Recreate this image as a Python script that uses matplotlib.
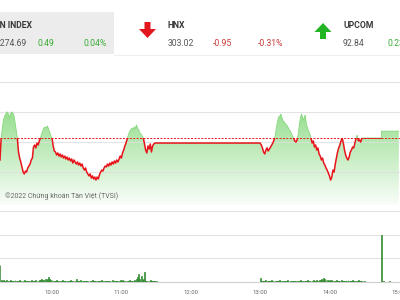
import numpy as np
import matplotlib
matplotlib.use("Agg")
import matplotlib.pyplot as plt
from matplotlib.colors import LinearSegmentedColormap
from matplotlib.patches import Rectangle, FancyArrow

plt.rcParams["font.family"] = ["Roboto", "DejaVu Sans"]

# reference (previous close) of VN-Index
REF = 1274.20

# per-minute index values, morning session from 09:15
am_start = "09:15"
am_price = [
    1272.63, 1274.20, 1274.91, 1275.49, 1275.77, 1275.91, 1276.06, 1275.99, 1275.63, 1275.91,
    1276.06, 1275.99, 1275.84, 1275.34, 1274.77, 1274.20, 1273.20, 1272.77, 1272.49, 1272.13,
    1271.77, 1271.63, 1271.84, 1271.77, 1272.06, 1272.20, 1272.34, 1272.63, 1272.77, 1273.56,
    1273.70, 1273.49, 1273.84, 1273.70, 1273.99, 1274.20, 1274.49, 1274.70, 1274.91, 1274.99,
    1274.91, 1275.06, 1274.84, 1274.63, 1274.34,
    1274.20, 1273.63, 1273.27, 1273.20, 1272.99, 1273.13, 1272.91, 1273.06, 1272.84, 1272.99,
    1272.77, 1272.91, 1272.70, 1272.84, 1272.63, 1272.77, 1272.56, 1272.70, 1272.41, 1272.63,
    1272.49, 1272.34, 1272.49, 1272.27, 1272.41, 1272.20, 1272.34, 1272.06, 1271.91, 1272.06,
    1271.77, 1271.63, 1271.49, 1271.63, 1271.34, 1271.49, 1271.27, 1271.41, 1271.20, 1271.41,
    1271.27, 1271.56, 1271.77, 1271.91, 1271.84, 1272.06, 1272.20, 1272.13, 1272.34, 1272.20,
    1272.41, 1272.27, 1272.49, 1272.34, 1272.56, 1272.41, 1272.63, 1272.49, 1272.70, 1272.91,
    1272.77, 1273.13, 1273.34, 1273.63, 1273.84, 1274.13, 1274.41, 1274.63, 1274.77, 1274.91,
    1274.77, 1274.99, 1274.84, 1275.13, 1274.91, 1274.77, 1274.56, 1274.49, 1274.34, 1274.20,
    1273.77, 1273.34, 1273.13, 1273.63, 1273.41, 1273.77, 1273.20, 1273.63, 1273.77, 1273.84,
    1273.84,
]

# afternoon session from 13:00 to 14:30
pm_start = "13:00"
pm_price = [
    1273.84, 1273.70, 1273.49, 1273.20, 1273.06, 1273.34, 1273.49, 1273.27, 1273.41, 1273.56,
    1273.70, 1273.84, 1274.06, 1274.34, 1274.91, 1275.34, 1275.70, 1275.77, 1275.91, 1275.63,
    1275.41, 1275.34, 1275.20, 1275.13, 1274.99, 1274.84, 1274.70, 1274.56, 1274.34, 1274.20,
    1273.99, 1273.91, 1274.06, 1274.49, 1275.20, 1275.70, 1275.91, 1275.49, 1275.63, 1275.84,
    1275.20, 1274.91, 1274.70, 1274.49, 1274.20, 1273.84, 1273.99, 1273.56, 1273.70, 1273.34,
    1273.49, 1273.06, 1272.91, 1272.63, 1272.77, 1272.41, 1272.27, 1272.06, 1271.91, 1271.70,
    1271.49, 1271.20, 1271.41, 1271.91, 1271.77, 1272.34, 1272.77, 1273.20, 1273.49, 1273.70,
    1273.99, 1274.20, 1273.84, 1273.34, 1272.99, 1272.77, 1272.63, 1272.84, 1273.20, 1273.34,
    1273.56, 1273.49, 1273.84, 1274.20, 1274.41, 1273.99, 1274.06, 1273.91, 1274.20, 1274.20,
    1274.20,
]

# ATC session
atc_time = ["14:45", "14:45", "15:00"]
atc_price = [1274.20, 1274.69, 1274.69]

# matched volume per minute (arbitrary units)
am_vol = [
    17,
    2, 1, 2, 1, 1, 2, 1, 1, 2, 1, 1, 1, 2, 1,
    1, 1, 2, 1, 1, 1, 2, 1, 1, 1, 1, 1, 2, 1, 1,
    1, 2, 1, 1, 2, 2, 3, 2, 2, 3, 2, 3, 5, 3, 2,
    2, 1, 1, 1, 2, 1, 1, 1, 1, 2, 1, 1, 1, 1, 1,
    1, 2, 1, 1, 1, 1, 3, 1, 1, 1, 2, 1, 1, 1, 1,
    1, 1, 1, 1, 1, 2, 1, 1, 1, 1, 1, 1, 1, 2, 1,
    1, 1, 1, 1, 1, 1, 1, 2, 1, 1, 1, 1, 1, 1, 2,
    1, 2, 1, 1, 1, 1, 1, 2, 1, 1, 1, 2, 1, 3, 5,
    8, 3, 6, 2, 3, 10, 1, 1, 1, 1, 2, 1, 1, 1, 1, 1,
]
pm_vol = [
    4, 1, 1, 1, 1, 2, 1, 1, 1, 1, 2, 1, 1, 1, 1,
    1, 1, 2, 1, 1, 1, 1, 1, 1, 2, 1, 1, 1, 1, 1,
    1, 1, 1, 1, 1, 2, 1, 1, 1, 1, 1, 2, 1, 1, 1,
    1, 2, 1, 1, 2, 1, 2, 2, 3, 2, 4, 3, 2, 2, 1,
    2, 1, 2, 1, 1, 1, 2, 1, 1, 1, 2, 1, 1, 1, 1,
    1, 2, 1, 1, 1, 2, 1, 1, 1, 1, 2, 1, 1, 1, 1,
    1,
]
late_vol_time = ["14:45", "14:47", "14:52"]
late_vol = [47, 1, 1]

tick_labels = ["10:00", "11:00", "12:00", "13:00", "14:00", "15:00"]

idx_names = ["VN INDEX", "HNX", "UPCOM"]
idx_last = ["1274.69", "303.02", "92.84"]
idx_chg = ["0.49", "-0.95", "0.23"]
idx_pct = ["0.04%", "-0.31%", "0.25%"]


def mins(s):
    h, m = s.split(":")
    return int(h) * 60 + int(m) - 540


RED = "#e8141b"
GREEN_TXT = "#3aab36"
RED_TXT = "#c93a36"

t = np.concatenate([mins(am_start) + np.arange(len(am_price)),
                    mins(pm_start) + np.arange(len(pm_price)),
                    [mins(s) for s in atc_time]]).astype(float)
p = np.array(am_price + pm_price + atc_price)

fig = plt.figure(figsize=(4, 3), dpi=100)
fig.patch.set_facecolor("white")

# price panel, pixel rows 60..205, 14 px per index point
ax = fig.add_axes([0, 1 - 205 / 300, 1, 145 / 300])
x0, x1 = 15.0, 361.0
y_lo, y_hi = REF - 67 / 14, REF + 78 / 14

cmap = LinearSegmentedColormap.from_list("fade", ["#ffffff", "#8bdb83"])
grad = np.linspace(0, 1, 256).reshape(-1, 1)
poly = ax.fill_between(t, p, y_lo, facecolor="none", edgecolor="none")
im = ax.imshow(grad, extent=[x0, x1, REF - 72 / 14, REF + 38 / 14], origin="lower",
               aspect="auto", cmap=cmap, zorder=1)
im.set_clip_path(poly.get_paths()[0], transform=ax.transData)

ln_dn, = ax.plot(t, p, color=RED, lw=1.1, zorder=3)
ln_dn.set_clip_path(Rectangle((x0, y_lo), x1 - x0, REF - y_lo, transform=ax.transData))
ln_up, = ax.plot(t, p, color="#86d87e", lw=0.6, zorder=3)
ln_up.set_clip_path(Rectangle((x0, REF), x1 - x0, y_hi - REF, transform=ax.transData))

ax.axhline(REF, color=RED, lw=0.7, ls=(0, (2, 1.5)), zorder=4)
for g in [REF + 56 / 14, REF + 26 / 14, REF - 4 / 14, REF - 34 / 14]:
    ax.axhline(g, color="#dedede", lw=0.8, alpha=0.8, zorder=2)

ax.set_xlim(x0, x1)
ax.set_ylim(y_lo, y_hi)
ax.set_xticks([])
ax.set_yticks([])
ax.patch.set_alpha(0)
for s in ax.spines.values():
    s.set_visible(False)

# volume panel, pixel rows 207..282
axv = fig.add_axes([0, 1 - 282 / 300, 1, 75 / 300])
tv = np.concatenate([mins(am_start) + np.arange(len(am_vol)),
                     mins(pm_start) + np.arange(len(pm_vol)),
                     [mins(s) for s in late_vol_time]]).astype(float)
v = np.array(am_vol + pm_vol + late_vol)
axv.bar(tv, v, width=0.8, color="#98dd92", edgecolor="#1f7d1f", lw=0.5, zorder=3)
axv.set_xlim(x0, x1)
axv.set_ylim(0, 75)
axv.set_yticks([24, 47, 71])
axv.grid(axis="y", color="#e2e2e2", lw=0.8)
axv.set_axisbelow(True)
axv.tick_params(axis="y", left=False, labelleft=False)
axv.set_xticks([mins(s) for s in tick_labels])
axv.set_xticklabels(tick_labels)
axv.tick_params(axis="x", length=0, labelsize=4.3, labelcolor="#666666", pad=5.5)
for s in ["top", "left", "right"]:
    axv.spines[s].set_visible(False)
axv.spines["bottom"].set_color("#cfcfcf")
axv.spines["bottom"].set_linewidth(0.8)
axv.patch.set_alpha(0)

# header strip and overlay texts in pixel coordinates
hd = fig.add_axes([0, 0, 1, 1], zorder=10)
hd.set_xlim(0, 400)
hd.set_ylim(300, 0)
hd.axis("off")
hd.add_patch(Rectangle((0, 12), 114, 42, color="#ececec", lw=0))
hd.plot([114, 400], [55, 55], color="#ececec", lw=0.6)

name_x = [-5.5, 168, 343]
chg_x = [(38, 83), (213, 258), (388, 433)]
for i in range(3):
    col = RED_TXT if idx_chg[i].startswith("-") else GREEN_TXT
    hd.text(name_x[i], 25, idx_names[i], fontsize=6.2, fontweight="bold",
            color="#3a3a3a", va="center", ha="left")
    hd.text(name_x[i] + (0.5 if i == 0 else 0), 43, idx_last[i], fontsize=6.2,
            color="#555555", va="center", ha="left")
    hd.text(chg_x[i][0], 43, idx_chg[i], fontsize=6.2, color=col, va="center", ha="left")
    hd.text(chg_x[i][1], 43, idx_pct[i], fontsize=6.2, color=col, va="center", ha="left")

hd.add_patch(FancyArrow(147.5, 22, 0, 16, width=6, head_width=17, head_length=9,
                        length_includes_head=True, color="#e3171d", lw=0))
hd.add_patch(FancyArrow(323, 39, 0, -16, width=6, head_width=17, head_length=9,
                        length_includes_head=True, color="#22b422", lw=0))

hd.text(5, 196, "©2022 Chứng khoán Tân Việt (TVSI)", fontsize=5, color="#6a6a6a",
        va="center", ha="left")

fig.savefig("out.png", dpi=100)
